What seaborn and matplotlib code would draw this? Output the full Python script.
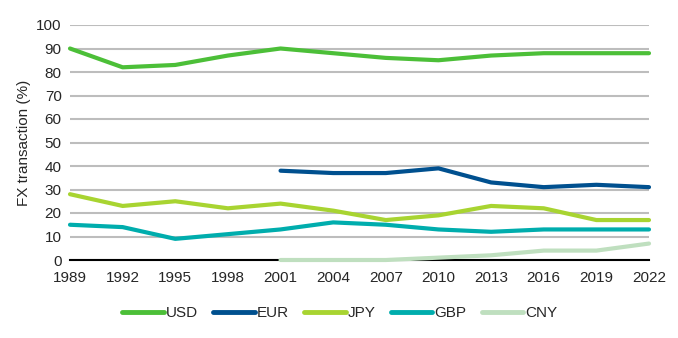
import numpy as np
import pandas as pd
import matplotlib
matplotlib.use("Agg")
import matplotlib.pyplot as plt
import seaborn as sns

years = [1989, 1992, 1995, 1998, 2001, 2004, 2007, 2010, 2013, 2016, 2019, 2022]
usd = [90, 82, 83, 87, 90, 88, 86, 85, 87, 88, 88, 88]
eur = [np.nan, np.nan, np.nan, np.nan, 38, 37, 37, 39, 33, 31, 32, 31]
jpy = [28, 23, 25, 22, 24, 21, 17, 19, 23, 22, 17, 17]
gbp = [15, 14, 9, 11, 13, 16, 15, 13, 12, 13, 13, 13]
cny = [np.nan, np.nan, np.nan, np.nan, 0, 0, 0, 1, 2, 4, 4, 7]

series = {"USD": usd, "EUR": eur, "JPY": jpy, "GBP": gbp, "CNY": cny}
colors = {"USD": "#4cbf38", "EUR": "#00508f", "JPY": "#a8d431", "GBP": "#00adad", "CNY": "#bfdfbf"}

df = pd.DataFrame({"year": years, **series}).melt(id_vars="year", var_name="cur", value_name="val")

sns.set_style("white")
plt.rcParams["font.family"] = ["Liberation Sans", "DejaVu Sans"]

fig = plt.figure(figsize=(6.78, 3.38), dpi=100)
ax = fig.add_axes([70/678, 1-260/338, (649-70)/678, (260-25)/338])

sns.lineplot(data=df, x="year", y="val", hue="cur", palette=colors, linewidth=3,
             ax=ax, legend=True, zorder=5)
for ln in ax.get_lines():
    ln.set_clip_on(False)

ax.set_xlim(1989, 2022)
ax.set_ylim(0, 100)
ax.set_xticks(years)
ax.set_xticklabels([str(y) for y in years], fontsize=11)
ax.set_yticks(range(0, 101, 10))
ax.set_yticklabels([str(v) for v in range(0, 101, 10)], fontsize=11)
ax.yaxis.grid(True, color="#bdbdbd", linewidth=1.5)
ax.xaxis.grid(False)
for s in ["top", "right", "left"]:
    ax.spines[s].set_visible(False)
ax.spines["bottom"].set_color("black")
ax.spines["bottom"].set_linewidth(1.5)
ax.spines["bottom"].set_zorder(2)
ax.tick_params(axis="x", direction="out", length=5, width=1.2, color="black", pad=3)
ax.tick_params(axis="y", length=0, pad=6)
ax.set_xlabel("")
ax.set_ylabel("FX transaction (%)", fontsize=11)

handles, labels = ax.get_legend_handles_labels()
leg = ax.legend(handles, labels, loc="center", bbox_to_anchor=(340/678, 1-313/338),
                bbox_transform=fig.transFigure, ncol=5, frameon=False, fontsize=11,
                handlelength=2.7, handletextpad=0.15, columnspacing=1.0)
for h in leg.get_lines():
    h.set_linewidth(3.5)

fig.savefig("out.png", dpi=100)
